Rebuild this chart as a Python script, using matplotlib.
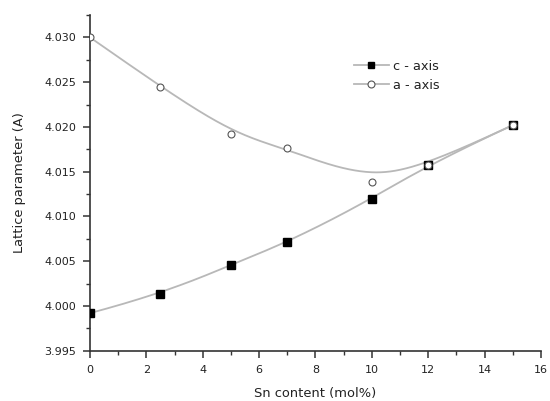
import numpy as np
import matplotlib
matplotlib.use("Agg")
import matplotlib.pyplot as plt
from matplotlib.ticker import MultipleLocator, FormatStrFormatter

# Lattice parameters vs Sn content
sn_content = [0, 2.5, 5, 7, 10, 12, 15]
c_axis = [3.9992, 4.0013, 4.0046, 4.0071, 4.0119, 4.0158, 4.0202]
a_axis = [4.0300, 4.0245, 4.0192, 4.0176, 4.0138, 4.0158, 4.0202]

plt.rcParams['font.family'] = ['DejaVu Sans']


def bspline(xs, ys, n_out=300, k=3):
    """Clamped uniform B-spline using the data points as control points."""
    pts = np.column_stack([xs, ys]).astype(float)
    n = len(pts)
    inner = np.arange(1, n - k)
    knots = np.concatenate([np.zeros(k + 1), inner, np.full(k + 1, n - k)])
    t = np.linspace(0, n - k, n_out)
    t[-1] -= 1e-9
    # Cox-de Boor recursion
    B = np.array([(t >= knots[i]) & (t < knots[i + 1])
                  for i in range(len(knots) - 1)], dtype=float).T
    for d in range(1, k + 1):
        Bn = np.zeros((len(t), len(knots) - 1 - d))
        for i in range(len(knots) - 1 - d):
            den1 = knots[i + d] - knots[i]
            den2 = knots[i + d + 1] - knots[i + 1]
            a = (t - knots[i]) / den1 * B[:, i] if den1 > 0 else 0
            b = (knots[i + d + 1] - t) / den2 * B[:, i + 1] if den2 > 0 else 0
            Bn[:, i] = a + b
        B = Bn
    curve = B @ pts
    return curve[:, 0], curve[:, 1]


fig = plt.figure(figsize=(5.5, 4.01), dpi=100)
ax = fig.add_axes([0.1636, 0.1254, 0.82, 0.8372])

cx, cy = bspline(sn_content, c_axis)
axx, axy = bspline(sn_content, a_axis)

line_col = '#b8b8b8'
ax.plot(cx, cy, color=line_col, lw=1.3, zorder=2)
ax.plot(axx, axy, color=line_col, lw=1.3, zorder=2)
ax.plot(sn_content, c_axis, ls='none', marker='s', ms=6, mfc='black',
        mec='black', zorder=3)
ax.plot(sn_content, a_axis, ls='none', marker='o', ms=5, mfc='white',
        mec='#555555', mew=0.8, zorder=4)

# legend entries
h1, = ax.plot([], [], color=line_col, lw=1.3, marker='s', ms=5,
              mfc='black', mec='black')
h2, = ax.plot([], [], color=line_col, lw=1.3, marker='o', ms=5,
              mfc='white', mec='#555555', mew=0.8)
leg = ax.legend([h1, h2], ['c - axis', 'a - axis'], loc='upper left',
                bbox_to_anchor=(0.565, 0.893), frameon=False, fontsize=9.3,
                handlelength=2.7, handletextpad=0.3, labelspacing=0.45,
                borderpad=0.2)
for t in leg.get_texts():
    t.set_color('#222222')

ax.set_xlim(0, 16)
ax.set_ylim(3.995, 4.0325)
ax.xaxis.set_major_locator(MultipleLocator(2))
ax.xaxis.set_minor_locator(MultipleLocator(1))
ax.yaxis.set_major_locator(MultipleLocator(0.005))
ax.yaxis.set_minor_locator(MultipleLocator(0.0025))
ax.yaxis.set_major_formatter(FormatStrFormatter('%.3f'))

for s in ['top', 'right']:
    ax.spines[s].set_visible(False)
for s in ['left', 'bottom']:
    ax.spines[s].set_linewidth(1.2)
    ax.spines[s].set_color('#333333')

ax.tick_params(which='major', direction='out', length=5, width=1.1,
               color='#333333', labelsize=8, labelcolor='#222222', pad=5)
ax.tick_params(which='minor', direction='out', length=3, width=1.0,
               color='#333333')

ax.set_xlabel('Sn content (mol%)', fontsize=9.4, color='#222222', labelpad=9)
ax.set_ylabel('Lattice parameter (A)', fontsize=9.4, color='#222222', labelpad=13)

fig.savefig('out.png', dpi=100)
